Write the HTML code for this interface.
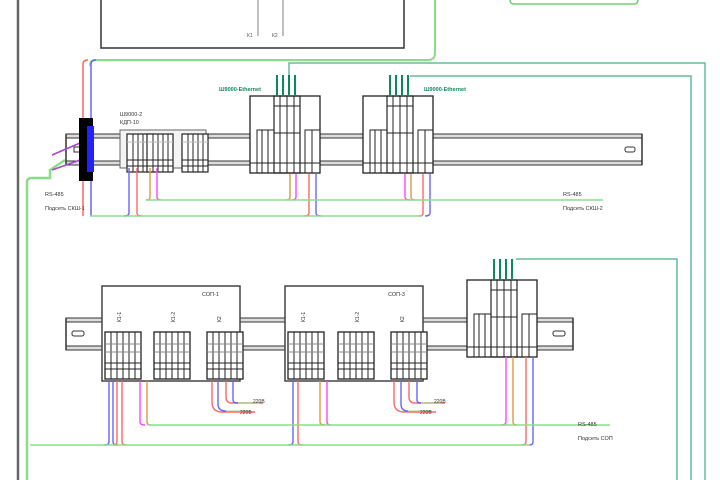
<!DOCTYPE html>
<html><head><meta charset="utf-8"><style>
html,body{margin:0;padding:0;background:#fff;width:720px;height:480px;overflow:hidden}
svg{display:block;font-family:"Liberation Sans","Noto Sans CJK SC",sans-serif}
</style></head><body>
<svg width="720" height="480" viewBox="0 0 720 480" xmlns="http://www.w3.org/2000/svg">
<defs>
<g id="term">
 <rect x="0" y="0" width="26" height="38" fill="#fff" stroke="#222" stroke-width="1.2"/>
 <line x1="6" y1="0" x2="6" y2="38" stroke="#222"/><line x1="11" y1="0" x2="11" y2="38" stroke="#222"/>
 <line x1="16" y1="0" x2="16" y2="38" stroke="#222"/><line x1="21" y1="0" x2="21" y2="38" stroke="#222"/>
 <line x1="0" y1="26" x2="26" y2="26" stroke="#222"/><line x1="0" y1="32" x2="26" y2="32" stroke="#222"/>
 <line x1="0" y1="8" x2="26" y2="8" stroke="#bbb"/>
</g>
<g id="term2">
 <rect x="0" y="0" width="36" height="47" fill="#fff" stroke="#222" stroke-width="1.3"/>
 <line x1="6" y1="0" x2="6" y2="47" stroke="#222"/><line x1="12" y1="0" x2="12" y2="47" stroke="#222"/>
 <line x1="18" y1="0" x2="18" y2="47" stroke="#222"/><line x1="24" y1="0" x2="24" y2="47" stroke="#222"/>
 <line x1="30" y1="0" x2="30" y2="47" stroke="#222"/>
 <line x1="0" y1="31" x2="36" y2="31" stroke="#222"/><line x1="0" y1="37" x2="36" y2="37" stroke="#222"/>
 <line x1="0" y1="12" x2="36" y2="12" stroke="#888"/><line x1="0" y1="20" x2="36" y2="20" stroke="#888"/>
</g>
<g id="eth">
 <rect x="0" y="0" width="70" height="77" fill="#fff" stroke="#222" stroke-width="1.3"/>
 <rect x="24" y="0" width="26" height="77" fill="none" stroke="#222" stroke-width="1.2"/>
 <line x1="30" y1="0" x2="30" y2="77" stroke="#222"/><line x1="37" y1="0" x2="37" y2="77" stroke="#222"/><line x1="44" y1="0" x2="44" y2="77" stroke="#222"/>
 <line x1="24" y1="10" x2="50" y2="10" stroke="#222"/><line x1="24" y1="37" x2="50" y2="37" stroke="#222"/>
 <rect x="7" y="34" width="17" height="43" fill="none" stroke="#222"/>
 <line x1="12" y1="34" x2="12" y2="77" stroke="#222"/><line x1="18" y1="34" x2="18" y2="77" stroke="#222"/>
 <rect x="55" y="34" width="15" height="43" fill="none" stroke="#222"/>
 <line x1="62" y1="34" x2="62" y2="77" stroke="#222"/>
 <line x1="0" y1="67" x2="70" y2="67" stroke="#222"/>
 <line x1="27" y1="-21" x2="27" y2="0" stroke="#0a8a5a" stroke-width="2"/><line x1="33" y1="-21" x2="33" y2="0" stroke="#0a8a5a" stroke-width="2"/>
 <line x1="39" y1="-21" x2="39" y2="0" stroke="#0a8a5a" stroke-width="2"/><line x1="45" y1="-21" x2="45" y2="0" stroke="#0a8a5a" stroke-width="2"/>
</g>
</defs>

<!-- left border -->
<line x1="18" y1="0" x2="18" y2="480" stroke="#666" stroke-width="2.5"/>
<!-- top box -->
<polyline points="101,0 101,48 404,48 404,0" fill="none" stroke="#333" stroke-width="1.5"/>
<line x1="258" y1="0" x2="258" y2="36" stroke="#aaa" stroke-width="1.5"/>
<line x1="283" y1="0" x2="283" y2="36" stroke="#aaa" stroke-width="1.5"/>
<text x="247" y="37" font-size="5" fill="#555">К1</text><text x="272" y="37" font-size="5" fill="#555">К2</text>
<!-- top right green box -->
<path d="M510,0 Q510,4 514,4 L634,4 Q638,4 638,0" fill="none" stroke="#7c7" stroke-width="1.5"/>
<!-- green line from top -->
<path d="M435,0 L435,53 Q435,60 428,60 L95,60 Q90,60 90,66" fill="none" stroke="#8d8" stroke-width="2"/>
<!-- teal lines right -->
<polyline points="289,75 289,63 705,63 705,480" fill="none" stroke="#6b9" stroke-width="1.5"/>
<polyline points="410,76 691,76 691,480" fill="none" stroke="#6b9" stroke-width="1.5"/>
<polyline points="516,259 677,259 677,480" fill="none" stroke="#6b9" stroke-width="1.5"/>
<!-- left green -->
<path d="M27,480 L27,182 Q27,178 32,178 L50,178 L50,170 L65,160" fill="none" stroke="#8d8" stroke-width="2.5"/>

<!-- rail 1 -->
<rect x="66" y="134" width="576" height="4" fill="#ddd" stroke="#333"/>
<rect x="66" y="161" width="576" height="4" fill="#ddd" stroke="#333"/>
<line x1="66" y1="134" x2="66" y2="165" stroke="#333" stroke-width="1.5"/>
<line x1="642" y1="134" x2="642" y2="165" stroke="#333" stroke-width="1.5"/>
<rect x="625" y="147" width="10" height="5" rx="2" fill="none" stroke="#333"/>
<rect x="74" y="147" width="8" height="5" fill="none" stroke="#333"/>

<!-- red/blue wires to left block -->
<path d="M83,216 L83,64 Q83,60 88,60" fill="none" stroke="#f66" stroke-width="1.5"/>
<path d="M91,216 L91,64 Q91,60 96,60" fill="none" stroke="#66f" stroke-width="1.5"/>
<path d="M52,155 L80,143 M52,170 L80,160" stroke="#a4c" stroke-width="1.5"/>
<!-- blue terminal block -->
<rect x="79" y="118" width="14" height="63" fill="#000"/>
<rect x="87" y="126" width="7" height="46" fill="#22f"/>

<!-- module 1 -->
<rect x="120" y="130" width="86" height="38" fill="#f4f4f4" stroke="#666"/>
<use href="#term" x="127" y="134"/><use href="#term" x="147" y="134"/><use href="#term" x="182" y="134"/>
<text x="120" y="116" font-size="5.5" fill="#333">Ш9000-2</text>
<text x="120" y="124" font-size="5.5" fill="#333">КДП-10</text>

<use href="#eth" x="250" y="96"/>
<use href="#eth" x="363" y="96"/>
<text x="219" y="91" font-size="5.5" fill="#0a8a5a" font-weight="bold">Ш9000-Ethernet</text>
<text x="424" y="91" font-size="5.5" fill="#0a8a5a" font-weight="bold">Ш9000-Ethernet</text>

<!-- row1 wires -->
<g fill="none" stroke-width="1.4">
<path d="M129,168 L129,213 Q129,216 124,216" stroke="#66f"/>
<path d="M137,168 L137,213 Q137,216 142,216" stroke="#f66"/>
<path d="M150,168 L150,197 Q150,200 146,200" stroke="#d94"/>
<path d="M157,168 L157,197 Q157,200 161,200" stroke="#f4f"/>
<path d="M290,174 L290,197 Q290,200 286,200" stroke="#d94"/>
<path d="M296,174 L296,197 Q296,200 292,200" stroke="#f4f"/>
<path d="M309,174 L309,213 Q309,216 304,216" stroke="#f66"/>
<path d="M316,174 L316,213 Q316,216 321,216" stroke="#66f"/>
<path d="M405,174 L405,197 Q405,200 410,200" stroke="#f4f"/>
<path d="M411,174 L411,197 Q411,200 415,200" stroke="#d94"/>
<path d="M423,174 L423,213 Q423,216 419,216" stroke="#f66"/>
<path d="M430,174 L430,213 Q430,216 425,216" stroke="#66f"/>
</g>
<line x1="146" y1="200" x2="603" y2="200" stroke="#8d8" stroke-width="1.5"/>
<line x1="90" y1="216" x2="422" y2="216" stroke="#8d8" stroke-width="1.5"/>
<text x="45" y="196" font-size="5.5" fill="#333">RS-485</text>
<text x="45" y="210" font-size="5.5" fill="#333">Подсеть СКШ-1</text>
<text x="563" y="196" font-size="5.5" fill="#333">RS-485</text>
<text x="563" y="210" font-size="5.5" fill="#333">Подсеть СКШ-2</text>

<!-- rail 2 -->
<rect x="66" y="318" width="507" height="4" fill="#ddd" stroke="#333"/>
<rect x="66" y="346" width="507" height="4" fill="#ddd" stroke="#333"/>
<line x1="66" y1="318" x2="66" y2="350" stroke="#333" stroke-width="1.5"/>
<line x1="573" y1="318" x2="573" y2="350" stroke="#333" stroke-width="1.5"/>
<rect x="72" y="331" width="12" height="5" rx="2" fill="none" stroke="#333"/>
<rect x="553" y="331" width="12" height="5" rx="2" fill="none" stroke="#333"/>

<!-- СОП modules -->
<rect x="102" y="286" width="138" height="95" fill="#fff" stroke="#444" stroke-width="1.5"/>
<use href="#term2" x="105" y="332"/><use href="#term2" x="154" y="332"/><use href="#term2" x="207" y="332" />
<text x="202" y="296" font-size="5.5" fill="#333">СОП-1</text>
<rect x="285" y="286" width="138" height="95" fill="#fff" stroke="#444" stroke-width="1.5"/>
<use href="#term2" x="288" y="332"/><use href="#term2" x="338" y="332"/><use href="#term2" x="391" y="332"/>
<text x="388" y="296" font-size="5.5" fill="#333">СОП-3</text>
<g font-size="5" fill="#333">
<text x="121" y="322" transform="rotate(-90 121 322)">К1-1</text>
<text x="175" y="322" transform="rotate(-90 175 322)">К1-2</text>
<text x="221" y="322" transform="rotate(-90 221 322)">К2</text>
<text x="305" y="322" transform="rotate(-90 305 322)">К1-1</text>
<text x="359" y="322" transform="rotate(-90 359 322)">К1-2</text>
<text x="404" y="322" transform="rotate(-90 404 322)">К2</text>
</g>
<use href="#eth" x="467" y="280"/>

<!-- row2 wires -->
<g fill="none" stroke-width="1.4">
<path d="M109,381 L109,442 Q109,445 104,445" stroke="#66f"/>
<path d="M113,381 L113,442 Q113,445 118,445" stroke="#66f"/>
<path d="M117,381 L117,442 Q117,445 113,445" stroke="#f66"/>
<path d="M122,381 L122,442 Q122,445 127,445" stroke="#f66"/>
<path d="M140,381 L140,422 Q140,425 145,425" stroke="#f4f"/>
<path d="M147,381 L147,422 Q147,425 151,425" stroke="#d94"/>
<path d="M212,381 L212,402 Q212,412 222,412 L255,412" stroke="#f66"/>
<path d="M218,381 L218,404 Q218,411 226,411" stroke="#66f"/>
<path d="M226,381 L226,397 Q226,403 232,403 L263,403" stroke="#f66"/>
<path d="M233,381 L233,400 Q233,403 238,403" stroke="#66f"/>
<path d="M293,381 L293,442 Q293,445 288,445" stroke="#66f"/>
<path d="M298,381 L298,442 Q298,445 303,445" stroke="#f66"/>
<path d="M320,381 L320,422 Q320,425 325,425" stroke="#d94"/>
<path d="M327,381 L327,422 Q327,425 331,425" stroke="#f4f"/>
<path d="M394,381 L394,402 Q394,412 404,412 L436,412" stroke="#f66"/>
<path d="M401,381 L401,404 Q401,411 408,411" stroke="#66f"/>
<path d="M409,381 L409,397 Q409,403 415,403 L445,403" stroke="#f66"/>
<path d="M417,381 L417,400 Q417,403 421,403" stroke="#66f"/>
<path d="M506,357 L506,422 Q506,425 501,425" stroke="#f4f"/>
<path d="M513,357 L513,422 Q513,425 517,425" stroke="#d94"/>
<path d="M526,357 L526,442 Q526,445 521,445" stroke="#f66"/>
<path d="M533,357 L533,442 Q533,445 529,445" stroke="#66f"/>
</g>
<line x1="148" y1="425" x2="610" y2="425" stroke="#8d8" stroke-width="1.5"/>
<line x1="30" y1="445" x2="530" y2="445" stroke="#8d8" stroke-width="1.5"/>
<line x1="226" y1="411" x2="250" y2="411" stroke="#8d8"/><line x1="238" y1="403" x2="260" y2="403" stroke="#8d8"/>
<line x1="408" y1="411" x2="432" y2="411" stroke="#8d8"/><line x1="421" y1="403" x2="442" y2="403" stroke="#8d8"/>
<g font-size="5" fill="#333">
<text x="253" y="403">220В</text><text x="240" y="414">220В</text>
<text x="434" y="403">220В</text><text x="420" y="414">220В</text>
</g>
<text x="578" y="426" font-size="5.5" fill="#333">RS-485</text>
<text x="578" y="440" font-size="5.5" fill="#333">Подсеть СОП</text>
</svg>
</body></html>
